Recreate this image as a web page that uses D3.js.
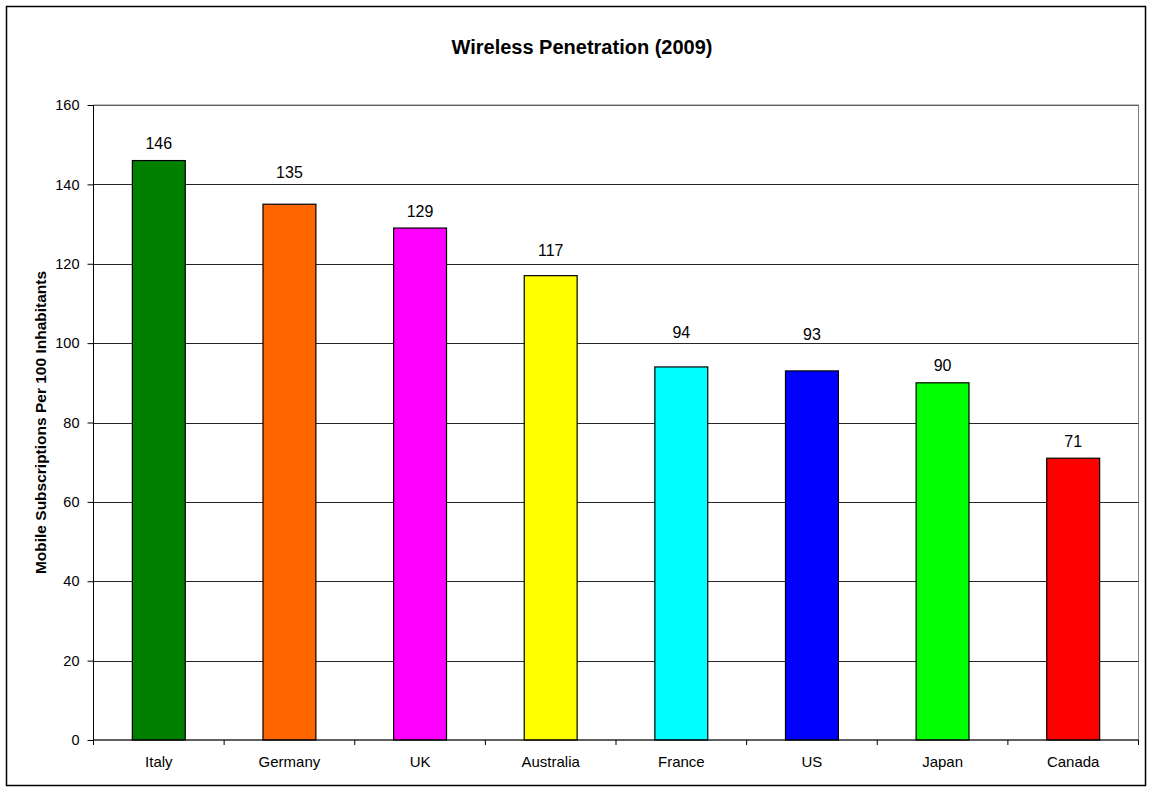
<!DOCTYPE html>
<html><head><meta charset="utf-8">
<script src="https://cdn.jsdelivr.net/npm/d3@7"></script>
<style>body{margin:0;background:#fff;font-family:"Liberation Sans",Arial,sans-serif;}</style>
</head><body>
<svg id="c" width="1152" height="792"></svg>
<script>
const categories = ["Italy","Germany","UK","Australia","France","US","Japan","Canada"];
const values = [146,135,129,117,94,93,90,71];
// data-unit height where each value label sits (as placed in the original)
const labelAnchor = [146,138.6,129,119,98.4,97.9,90,71];
const colors = ["#008000","#FF6600","#FF00FF","#FFFF00","#00FFFF","#0000FF","#00FF00","#FF0000"];
const yTicks = [0,20,40,60,80,100,120,140,160];
const title = "Wireless Penetration (2009)";
const yLabel = "Mobile Subscriptions Per 100 Inhabitants";

const svg = d3.select("#c");
const font = '"Liberation Sans",Arial,sans-serif';
svg.append("rect").attr("x",6.5).attr("y",6.5).attr("width",1139).attr("height",779)
  .attr("fill","#fff").attr("stroke","#000").attr("stroke-width",1.5);

const L=93.5, R=1138.5, T=105, B=740;
const x = d3.scaleBand().domain(categories).range([L,R]).paddingInner(0).paddingOuter(0);
const y = d3.scaleLinear().domain([0,160]).range([B,T]);

// plot border
svg.append("rect").attr("x",L).attr("y",T).attr("width",R-L).attr("height",B-T)
  .attr("fill","none").attr("stroke","#808080").attr("stroke-width",1);
// gridlines
svg.append("g").selectAll("line").data(yTicks.filter(d=>d>0)).join("line")
  .attr("x1",L).attr("x2",R).attr("y1",d=>Math.round(y(d))+0.5).attr("y2",d=>Math.round(y(d))+0.5)
  .attr("stroke","#000").attr("stroke-width",1).attr("stroke-opacity",d=>d===160?0.5:0.85);

// bars
const bw = x.bandwidth()*0.405;
svg.append("g").selectAll("rect").data(categories).join("rect")
  .attr("x",(d)=>x(d)+x.bandwidth()/2-bw/2)
  .attr("y",(d,i)=>y(values[i]))
  .attr("width",bw)
  .attr("height",(d,i)=>B-y(values[i]))
  .attr("fill",(d,i)=>colors[i]).attr("stroke","#000").attr("stroke-width",1.2);

// value labels
svg.append("g").selectAll("text").data(categories).join("text")
  .attr("x",d=>x(d)+x.bandwidth()/2).attr("y",(d,i)=>y(labelAnchor[i])-11.5)
  .attr("text-anchor","middle").attr("font-family",font).attr("font-size",16).attr("fill","#000")
  .text((d,i)=>values[i]);

// y axis
const ya = svg.append("g").attr("transform",`translate(${L},0)`)
  .call(d3.axisLeft(y).tickValues(yTicks).tickSize(6).tickPadding(8).tickFormat(d3.format("d")));
ya.select(".domain").attr("stroke","#000").attr("d",`M0,${T}V${B}`);
ya.selectAll(".tick line").attr("stroke","#000");
ya.selectAll("text").attr("font-family",font).attr("font-size",14.5).attr("fill","#000");

// x axis
const xa = svg.append("g").attr("transform",`translate(0,${B})`);
xa.append("line").attr("x1",L).attr("x2",R).attr("y1",0).attr("y2",0).attr("stroke","#000");
const bounds = categories.map(d=>x(d)).concat([R]);
xa.selectAll("line.t").data(bounds).join("line").attr("class","t")
  .attr("x1",d=>d).attr("x2",d=>d).attr("y1",0).attr("y2",5).attr("stroke","#000");
xa.selectAll("text").data(categories).join("text")
  .attr("x",d=>x(d)+x.bandwidth()/2).attr("y",27)
  .attr("text-anchor","middle").attr("font-family",font).attr("font-size",15).attr("fill","#000")
  .text(d=>d);

// title
svg.append("text").attr("x",(L+R)/2-34).attr("y",54).attr("text-anchor","middle")
  .attr("font-family",font).attr("font-size",20).attr("font-weight","bold").text(title);
// y label
svg.append("text").attr("transform",`translate(46,${(T+B)/2}) rotate(-90)`).attr("text-anchor","middle")
  .attr("font-family",font).attr("font-size",15.5).attr("font-weight","bold").text(yLabel);
</script>
</body></html>
